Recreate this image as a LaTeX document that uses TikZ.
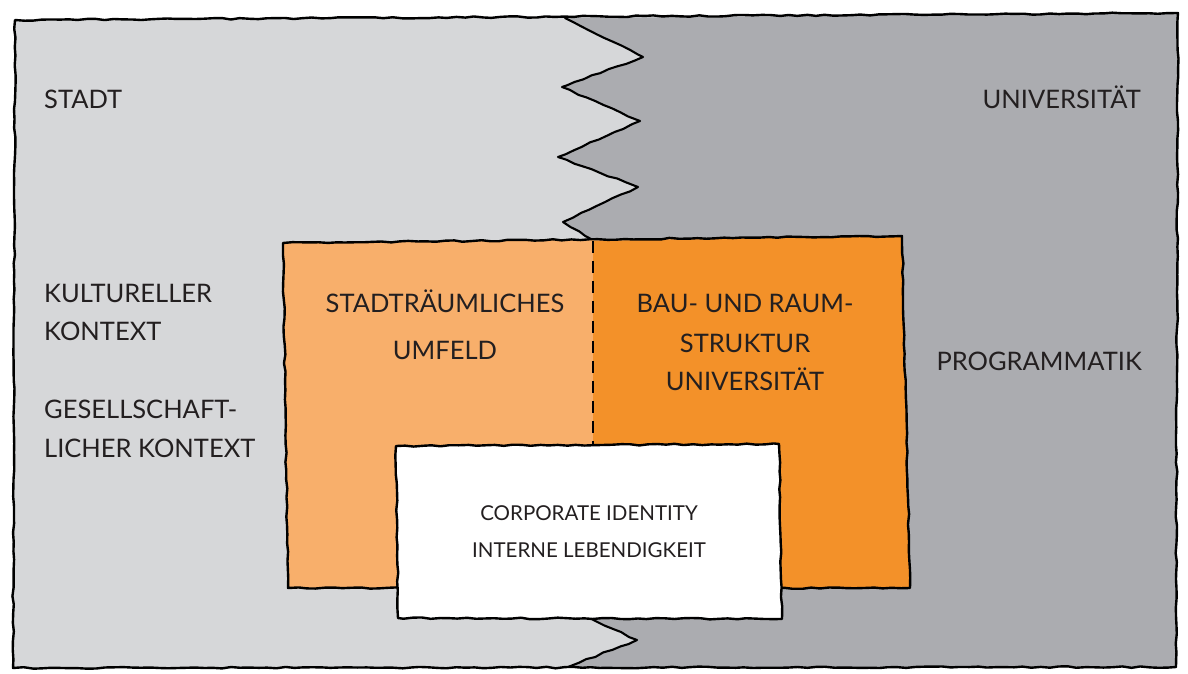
\documentclass[tikz,border=0pt]{standalone}
\usepackage{fontspec}
\setmainfont{Lato}
\usetikzlibrary{decorations.pathmorphing}
\definecolor{lgray}{HTML}{D6D7D9}
\definecolor{dgray}{HTML}{ABACB0}
\definecolor{lorange}{HTML}{F8AF6B}
\definecolor{dorange}{HTML}{F39129}
\definecolor{ink}{HTML}{231F20}
\tikzset{
 rough/.style={decorate, decoration={random steps, segment length=9pt, amplitude=0.8pt}, line width=2.4pt, line join=round, line cap=round, draw=black},
 lbl/.style={font=\fontsize{25.5}{28}\selectfont, text=ink, inner sep=0pt},
 sml/.style={font=\fontsize{20.5}{22}\selectfont, text=ink, inner sep=0pt},
}
\begin{document}
\begin{tikzpicture}[x=1pt,y=-1pt]
\pgfmathsetseed{11}
\useasboundingbox (0,0) rectangle (1188,673);
\fill[white] (0,0) rectangle (1188,673);
% outer frame corners
\coordinate (tl) at (15,20);
\coordinate (tr) at (1178,13);
\coordinate (br) at (1176,667);
\coordinate (bl) at (13,668);
% zigzag
\coordinate (z0) at (565,18);
\coordinate (z1) at (643,57);
\coordinate (z2) at (562,87);
\coordinate (z3) at (640,121);
\coordinate (z4) at (558,157);
\coordinate (z5) at (638,187);
\coordinate (z6) at (563,222);
\coordinate (z7) at (593,240);
\coordinate (z8) at (588,617);
\coordinate (z9) at (637,640);
\coordinate (z10) at (568,667);
% fills
\fill[lgray] (tl) -- (tr) -- (br) -- (bl) -- cycle;
\fill[dgray] (z0) -- (tr) -- (br) -- (z10) -- (z9) -- (z8) -- (z7) -- (z6) -- (z5) -- (z4) -- (z3) -- (z2) -- (z1) -- cycle;
\draw[rough, line width=2.1pt] (z0) -- (z1) -- (z2) -- (z3) -- (z4) -- (z5) -- (z6) -- (z7);
\draw[rough, line width=2.1pt] (z8) -- (z9) -- (z10);
\draw[rough] (tl) -- (tr) -- (br) -- (bl) -- cycle;
% orange block
\coordinate (o1) at (283,243);
\coordinate (o2) at (902,236);
\coordinate (o3) at (910,588);
\coordinate (o4) at (288,588);
\coordinate (d1) at (593,241);
\coordinate (d2) at (593,446);
\fill[lorange] (o1) -- (o2) -- (o3) -- (o4) -- cycle;
\fill[dorange] (d1) -- (o2) -- (o3) -- (593,588) -- cycle;
\draw[rough] (o1) -- (o2) -- (o3) -- (o4) -- cycle;
\draw[line width=2.5pt, dash pattern=on 12pt off 8pt, black] (d1) -- (d2);
% white block
\coordinate (w1) at (396,446);
\coordinate (w2) at (779,444);
\coordinate (w3) at (782,619);
\coordinate (w4) at (398,618);
\draw[rough, fill=white] (w1) -- (w2) -- (w3) -- (w4) -- cycle;
% texts
\node[lbl, anchor=base west] (stadt) at (44,108) {STADT};
\node[lbl, anchor=base east] (uni) at (1141,108) {UNIVERSITÄT};
\node[lbl, anchor=base west] (kult1) at (44,302) {KULTURELLER};
\node[lbl, anchor=base west] (kult2) at (44,340) {KONTEXT};
\node[lbl, anchor=base west] (ges1) at (44,418) {GESELLSCHAFT-};
\node[lbl, anchor=base west] (ges2) at (44,457) {LICHER KONTEXT};
\node[lbl, anchor=base] (su1) at (445,312) {STADTRÄUMLICHES};
\node[lbl, anchor=base] (su2) at (445,359) {UMFELD};
\node[lbl, anchor=base] (br1) at (745,312) {BAU- UND RAUM-};
\node[lbl, anchor=base] (br2) at (745,352) {STRUKTUR};
\node[lbl, anchor=base] (br3) at (745,390) {UNIVERSITÄT};
\node[lbl, anchor=base east] (prog) at (1142,370) {PROGRAMMATIK};
\node[sml, anchor=base] (ci1) at (589,520) {CORPORATE IDENTITY};
\node[sml, anchor=base] (ci2) at (589,557) {INTERNE LEBENDIGKEIT};
\end{tikzpicture}
\end{document}
